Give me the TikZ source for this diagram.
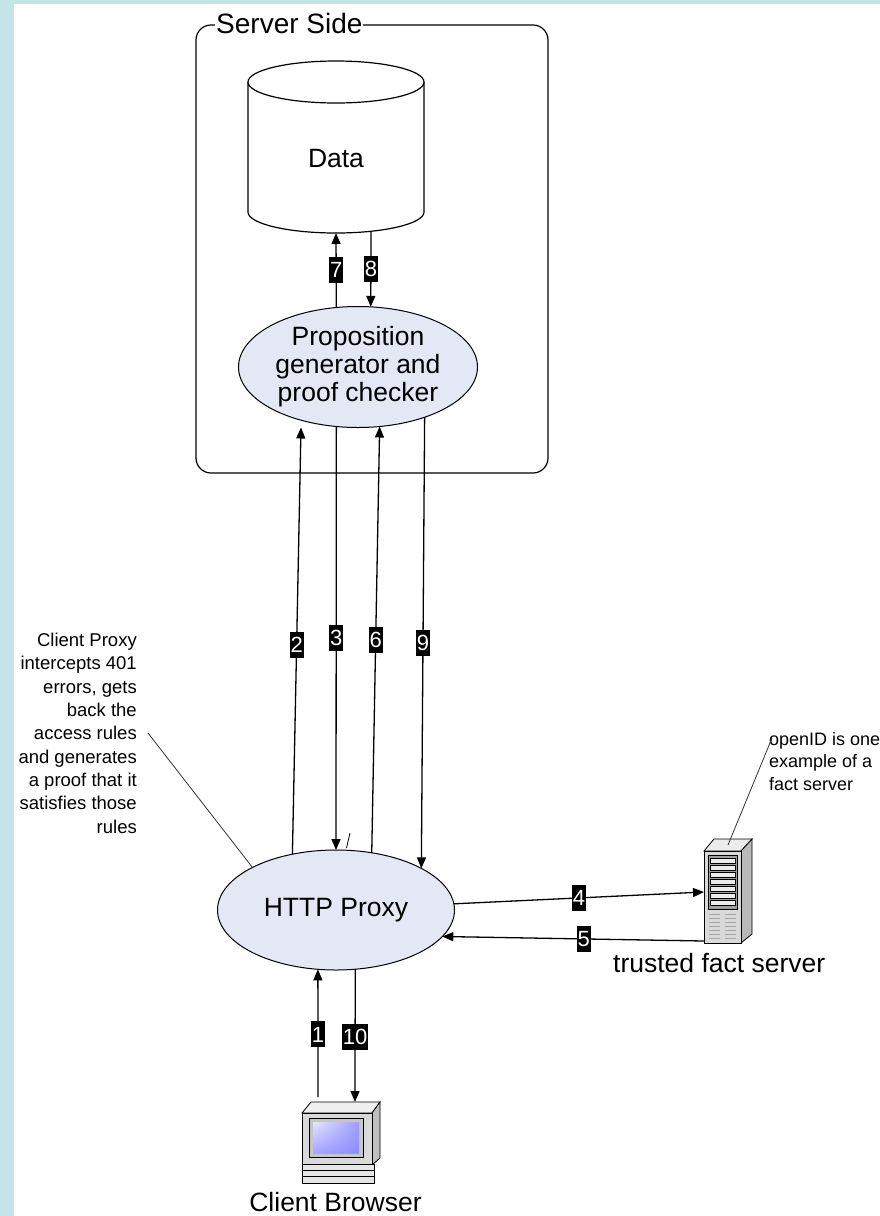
\documentclass[tikz,border=0pt]{standalone}
\usepackage{fontspec}
\setmainfont{Liberation Sans}
\usetikzlibrary{shapes.geometric, positioning, arrows.meta, shadings}
\definecolor{edgecyan}{HTML}{C5E3E8}
\definecolor{bubblefill}{HTML}{E3E8F4}
\tikzset{>={Triangle[length=11pt,width=9pt]},
         bubble/.style={ellipse,draw,fill=bubblefill,line width=1pt,inner sep=0pt,outer sep=0pt,align=center,font=\fontsize{26.5}{28}\selectfont},
         tag/.style={fill=black,text=white,inner xsep=1pt,inner ysep=0pt,minimum height=26pt,font=\fontsize{22}{22}\selectfont},
         note/.style={inner sep=0pt,font=\fontsize{18.5}{23.3}\selectfont},
         big/.style={inner sep=0pt,font=\fontsize{26.5}{28}\selectfont},
         flow/.style={->,line width=1.3pt},
         pointer/.style={line width=0.8pt,black!80},
         icon/.style={inner sep=0pt,outer sep=0pt},
        }

\begin{document}
\begin{tikzpicture}[x=1pt,y=-1pt]
        \useasboundingbox(0,0)rectangle(880,1216);
        \fill[edgecyan](0,0)rectangle(880,1216);
        \fill[white](14,4)rectangle(880,1216);

        \node[draw,line width=1.2pt,rounded corners=15pt,minimum width=352pt,minimum height=448pt](side)at(372,249){};
        \node[big,font=\fontsize{28}{28}\selectfont,fill=white,inner xsep=1pt,anchor=base west](sidetitle)at(215,33){Server Side};

        \filldraw[fill=white,line width=1.2pt](248,82)--(248,212)arc[start angle=180,end angle=360,x radius=88pt,y radius=21pt]--(424,82);
        \filldraw[fill=white,line width=1.2pt](336,82)ellipse[x radius=88pt,y radius=21pt];
        \node[big,anchor=base](data)at(336,167){Data};
        \coordinate(d7)at(336,233);
        \coordinate(d8)at(371,231.3);

        \node[bubble,minimum width=239pt,minimum height=121pt](pg)at(358,367){Proposition\\generator and\\proof checker};
        \node[bubble,minimum width=237pt,minimum height=120pt](proxy)at(336,910){HTTP Proxy};

        \node[icon,minimum width=48pt,minimum height=105pt](fs)at(728,890.5){};
        \filldraw[fill=gray!15,line width=0.8pt](704,851)--(714,839)--(752,839)--(741,851)--cycle;
        \filldraw[fill=gray!55,line width=0.8pt](741,851)--(752,839)--(752,934)--(741,943)--cycle;
        \filldraw[fill=gray!30,line width=0.8pt](704,851)rectangle(741,943);
        \filldraw[fill=gray!75,line width=0.8pt](708,855)rectangle(737,909);
        \foreach \y in {858,865,872,879,886,893,900}{\filldraw[fill=gray!15,line width=0.5pt](710,\y)rectangle(735,\y+5);}
        \foreach \y in {914,918,...,938}{\draw[gray!70,line width=1pt](709,\y)--(720,\y)(725,\y)--(736,\y);}
        \node[big,anchor=base west](fslabel)at(613,972){trusted fact server};

        \node[icon,minimum width=78pt,minimum height=81pt](pc)at(341,1142.5){};
        \filldraw[fill=gray!12,line width=0.8pt](302,1113)--(311,1102)--(380,1102)--(372,1113)--cycle;
        \filldraw[fill=gray!50,line width=0.8pt](372,1113)--(380,1102)--(380,1158)--(372,1165)--cycle;
        \filldraw[fill=gray!30,line width=0.8pt](302,1113)rectangle(372,1164);
        \filldraw[fill=gray!45,line width=0.6pt](309,1118)rectangle(363,1157);
        \shade[upper left=blue!10,upper right=blue!38,lower left=blue!35,lower right=blue!45](313,1122)rectangle(359,1153);
        \filldraw[fill=gray!20,line width=0.8pt](302,1164)rectangle(374,1183);
        \draw[line width=0.6pt](302,1170)--(374,1170)(302,1176)--(374,1176);
        \node[big,anchor=base](pclabel)at(335.5,1211){Client Browser};

        \node[note,anchor=north east,align=right](cpnote)at(137,633){Client Proxy\\intercepts 401\\errors, gets\\back the\\access rules\\and generates\\a proof that it\\satisfies those\\rules};
        \node[note,font=\fontsize{18}{22.5}\selectfont,anchor=north west,align=left](idnote)at(769,732){openID is one\\example of a\\fact server};
        \coordinate(cptip)at(148,733);
        \coordinate(idtip)at(772,738);
        \coordinate(fstop)at(728,845);

        \draw[flow](pg.110)--(d7)node[tag,pos=0.5]{7};
        \draw[flow](d8)--(pg.78)node[tag,pos=0.5]{8};
        \draw[flow]([xshift=-23pt,yshift=5pt]pc.north)--(proxy.253)node[tag,pos=0.49]{1};
        \draw[flow](proxy.128)--([xshift=-57pt]pg.south)node[tag,pos=0.49]{2};
        \draw[flow](pg.250)--(proxy.north)node[tag,pos=0.5]{3};
        \draw[flow](proxy.3)--([yshift=-1.5pt]fs.west)node[tag,pos=0.5]{4};
        \draw[flow]([yshift=2pt]fs.south west)--(proxy.346)node[tag,pos=0.46]{5};
        \draw[flow](proxy.58)--(pg.290)node[tag,pos=0.5]{6};
        \draw[flow](pg.323)--(proxy.26)node[tag,pos=0.5]{9};
        \draw[flow](proxy.288)--([xshift=14pt]pc.north)node[tag,pos=0.51]{10};
        \draw[line width=0.8pt](346.5,848)--(350,833);

        \draw[pointer](proxy.153)--(cptip);
        \draw[pointer](fstop)--(idtip);
    \end{tikzpicture}
\end{document}
